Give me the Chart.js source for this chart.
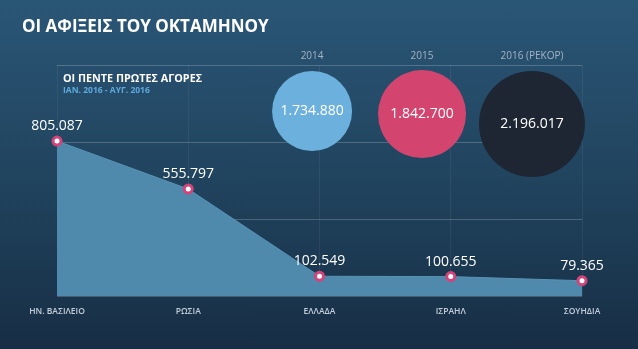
<!DOCTYPE html>
<html lang="el">
<head>
<meta charset="utf-8">
<title>Οι αφίξεις του οκταμήνου</title>
<script src="https://cdn.jsdelivr.net/npm/chart.js@4/dist/chart.umd.min.js"></script>
<style>
  html, body { margin: 0; padding: 0; }
  body {
    width: 638px; height: 349px; overflow: hidden; position: relative;
    background: linear-gradient(180deg, #2a5676 0%, #21445f 50%, #172e45 100%);
    font-family: "Open Sans", sans-serif;
  }
  #arrivalsChart { position: absolute; left: 0; top: 0; }
  .title { position: absolute; left: 22px; top: 14px; color: #fff; font-weight: 700; font-size: 17px; }
  .subtitle { position: absolute; left: 63px; top: 70px; color: #fff; font-weight: 700; font-size: 10.8px; }
  .period { position: absolute; left: 63px; top: 84px; color: #5eaadd; font-weight: 700; font-size: 8.5px; }
</style>
</head>
<body>
<canvas id="arrivalsChart" width="638" height="349"></canvas>
<div class="title">ΟΙ ΑΦΙΞΕΙΣ ΤΟΥ ΟΚΤΑΜΗΝΟΥ</div>
<div class="subtitle">ΟΙ ΠΕΝΤΕ ΠΡΩΤΕΣ ΑΓΟΡΕΣ</div>
<div class="period">ΙΑΝ. 2016 - ΑΥΓ. 2016</div>
<script>
// Πέντε πρώτες αγορές (Ιαν. - Αυγ. 2016)
const markets = ['ΗΝ. ΒΑΣΙΛΕΙΟ', 'ΡΩΣΙΑ', 'ΕΛΛΑΔΑ', 'ΙΣΡΑΗΛ', 'ΣΟΥΗΔΙΑ'];
const marketArrivals = [805087, 555797, 102549, 100655, 79365];

// Σύνολο αφίξεων οκταμήνου ανά έτος
const years = [2014, 2015, 2016];
const yearLabels = ['2014', '2015', '2016 (ΡΕΚΟΡ)'];
const yearTotals = [1734880, 1842700, 2196017];

// Γραμμές πλέγματος
const yTicks = [0, 400000, 800000, 1200000];

// μέγεθος κύκλων και χρώματα
const bubbleRadius = [40, 44, 53];
const bubbleColors = ['#6cb0dd', '#d3456f', '#1e2634'];

const FONT = '"Open Sans"';

function formatNumber(num) {
    return String(num).replace(/\B(?=(\d{3})+(?!\d))/g, '.');
}

// Ετικέτες τιμών πάνω στα σημεία και μέσα στους κύκλους
const valueLabels = {
    id: 'valueLabels',
    afterDatasetsDraw(chart) {
        const ctx = chart.ctx;
        ctx.save();
        ctx.textAlign = 'center';
        ctx.textBaseline = 'middle';

        ctx.fillStyle = '#ffffff';
        ctx.font = '14px ' + FONT;
        chart.getDatasetMeta(0).data.forEach((pt, i) => {
            ctx.fillText(formatNumber(marketArrivals[i]), pt.x, pt.y - 15);
        });

        chart.getDatasetMeta(1).data.forEach((b, i) => {
            ctx.fillStyle = '#ffffff';
            ctx.font = '14px ' + FONT;
            ctx.fillText(formatNumber(yearTotals[i]), b.x, b.y);
            ctx.fillStyle = '#a5b4c3';
            ctx.font = '10px ' + FONT;
            ctx.fillText(yearLabels[i], b.x, chart.chartArea.top - 9);
        });
        ctx.restore();
    }
};

document.addEventListener('DOMContentLoaded', () => {
    Chart.defaults.font.family = FONT;

    new Chart(document.getElementById('arrivalsChart'), {
        data: {
            labels: markets,
            datasets: [
                {
                    type: 'line',
                    data: marketArrivals,
                    xAxisID: 'x',
                    yAxisID: 'y',
                    fill: 'origin',
                    backgroundColor: '#4f8aad',
                    borderColor: '#5893b6',
                    borderWidth: 1,
                    tension: 0,
                    pointRadius: 4,
                    pointBorderWidth: 3,
                    pointBorderColor: '#d3457a',
                    pointBackgroundColor: '#ffffff',
                    clip: false
                },
                {
                    type: 'bubble',
                    data: years.map((yr, i) => ({ x: yr, y: yearTotals[i], r: bubbleRadius[i] })),
                    xAxisID: 'xb',
                    yAxisID: 'yb',
                    backgroundColor: bubbleColors,
                    borderWidth: 0,
                    clip: false
                }
            ]
        },
        options: {
            responsive: false,
            animation: false,
            events: [],
            layout: { padding: { left: 57, right: 56, top: 65, bottom: 22 } },
            plugins: {
                legend: { display: false },
                tooltip: { enabled: false }
            },
            scales: {
                x: {
                    type: 'category',
                    offset: false,
                    grid: { color: 'rgba(255,255,255,0.06)', drawTicks: false },
                    border: { display: false },
                    ticks: { color: '#c3ceda', padding: 10, font: { size: 8.5, weight: '600' } }
                },
                y: {
                    min: 0,
                    max: 1200000,
                    afterBuildTicks: scale => { scale.ticks = yTicks.map(v => ({ value: v })); },
                    grid: { color: 'rgba(255,255,255,0.2)', drawTicks: false },
                    border: { display: false },
                    ticks: { display: false }
                },
                // κρυφοί άξονες για τους κύκλους των ετών
                xb: { type: 'linear', axis: 'x', display: false, min: 2011.68, max: 2016.455 },
                yb: { type: 'linear', axis: 'y', display: false, reverse: true, min: 103180, max: 8297000 }
            }
        },
        plugins: [valueLabels]
    });
});
</script>
</body>
</html>
